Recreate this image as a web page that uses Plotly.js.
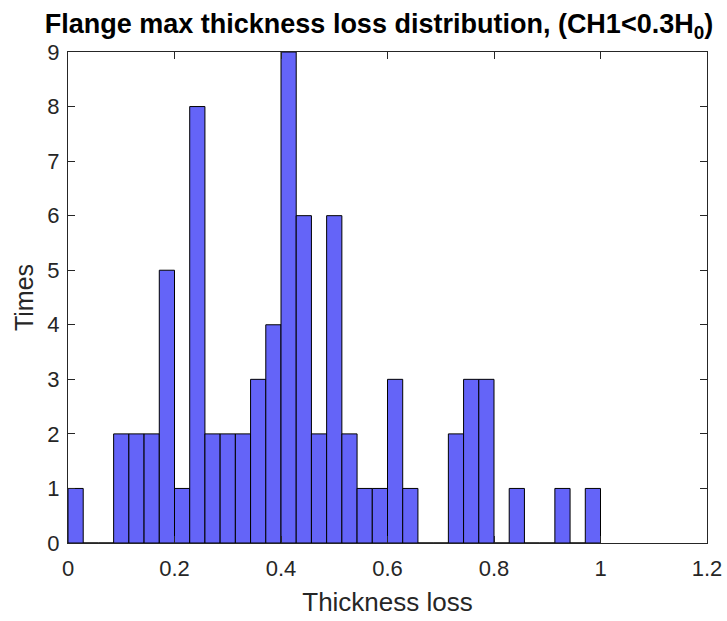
<!DOCTYPE html>
<html>
<head>
<meta charset="utf-8">
<script src="https://cdn.plot.ly/plotly-3.0.1.min.js"></script>
<style>html,body{margin:0;padding:0;background:#fff;}#chart{width:727px;height:621px;}</style>
</head>
<body>
<div id="chart"></div>
<script>
// Histogram: 35 bins from 0 to 1
const binStart = 0;
const binEnd = 1;
const counts = [1,0,0,2,2,2,5,1,8,2,2,2,3,4,9,6,2,6,2,1,1,3,1,0,0,2,3,3,0,1,0,0,1,0,1];
const xTickVals = [0,0.2,0.4,0.6,0.8,1,1.2];
const xTickText = ["0","0.2","0.4","0.6","0.8","1","1.2"];
const yTickVals = [0,1,2,3,4,5,6,7,8,9];
const yTickText = ["0","1","2","3","4","5","6","7","8","9"];

const binWidth = (binEnd - binStart) / counts.length;
const centers = counts.map((c, i) => binStart + (i + 0.5) * binWidth);

const axisColor = '#262626';
const trace = {
  type: 'bar',
  x: centers,
  y: counts,
  width: counts.map(() => binWidth),
  marker: {color: 'rgb(100,100,248)', line: {color: '#000', width: 1}},
  hoverinfo: 'x+y'
};

const layout = {
  width: 727, height: 621,
  margin: {l: 68, r: 20, t: 52, b: 78},
  paper_bgcolor: '#fff', plot_bgcolor: '#fff',
  showlegend: false,
  bargap: 0,
  font: {family: 'Liberation Sans, Arial, sans-serif', color: axisColor},
  title: {
    text: 'Flange max thickness loss distribution, (CH1<0.3H<sub>0</sub>)',
    font: {family: 'Liberation Sans, Arial, sans-serif', size: 27, color: '#000', weight: 'bold'},
    x: (379 - 68) / 639, xanchor: 'center', xref: 'paper',
    y: 1 - 33/621, yanchor: 'bottom', yref: 'container'
  },
  xaxis: {
    range: [0, 1.2],
    tickvals: xTickVals, ticktext: xTickText,
    ticks: 'inside', ticklen: 7, tickwidth: 1, tickcolor: axisColor,
    showline: true, linecolor: axisColor, linewidth: 1, mirror: 'ticks',
    showgrid: false, zeroline: false,
    ticklabelstandoff: 6,
    tickfont: {size: 22, color: axisColor},
    title: {text: 'Thickness loss', font: {size: 26, color: axisColor}, standoff: 12}
  },
  yaxis: {
    range: [0, 9],
    tickvals: yTickVals, ticktext: yTickText,
    ticks: 'inside', ticklen: 7, tickwidth: 1, tickcolor: axisColor,
    showline: true, linecolor: axisColor, linewidth: 1, mirror: 'ticks',
    showgrid: false, zeroline: false,
    ticklabelstandoff: 3,
    tickfont: {size: 22, color: axisColor},
    title: {text: 'Times', font: {size: 25, color: axisColor}, standoff: 6}
  }
};

Plotly.newPlot('chart', [trace], layout, {displayModeBar: false, staticPlot: true});
</script>
</body>
</html>
